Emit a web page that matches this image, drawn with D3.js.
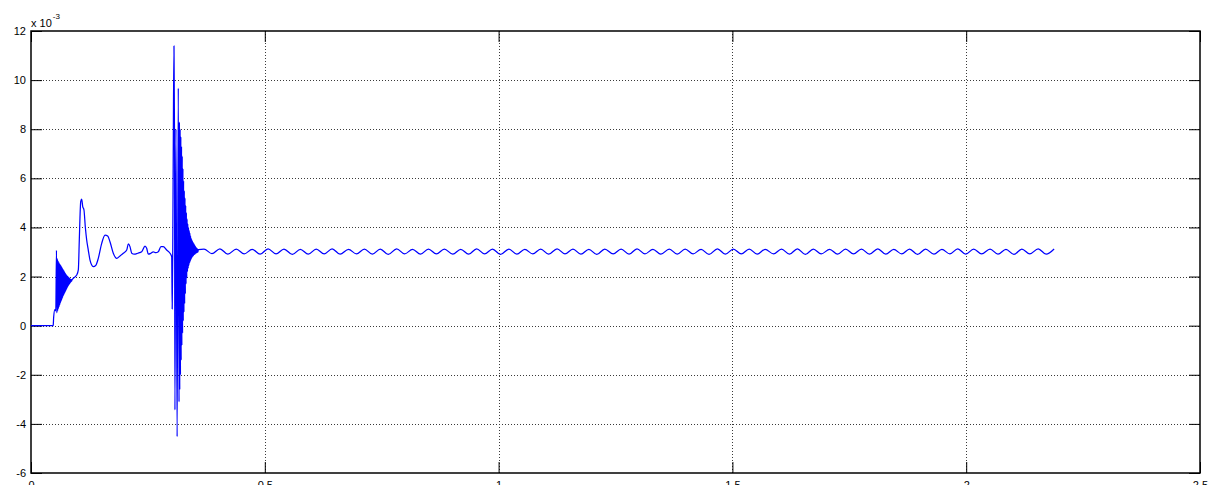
<!DOCTYPE html>
<html><head><meta charset="utf-8">
<script src="https://cdn.jsdelivr.net/npm/d3@7"></script>
<style>html,body{margin:0;padding:0;background:#fff;overflow:hidden}</style>
</head><body>
<svg id="chart" width="1219" height="485"></svg>
<script>
// ---- data (values in units of 1e-3) ----
const xTicks = [0, 0.5, 1, 1.5, 2, 2.5];
const xTickLabels = ["0", "0.5", "1", "1.5", "2", "2.5"];
const yTicks = [-6, -4, -2, 0, 2, 4, 6, 8, 10, 12];
const yTickLabels = ["-6", "-4", "-2", "0", "2", "4", "6", "8", "10", "12"];
const exponentBase = "x 10";
const exponentPower = "-3";

// initial flat part and step
const startTime  = [0, 0.0465, 0.0475, 0.0485, 0.0510, 0.0530];
const startValue = [0, 0, 0.02, 0.35, 0.65, 0.60];

// first dense oscillation burst
const burstATime  = [0.0545,0.0553,0.0560,0.0568,0.0575,0.0583,0.0590,0.0598,0.0605,0.0613,0.0620,0.0628,0.0635,0.0643,0.0650,0.0658,0.0665,0.0673,0.0680,0.0688,0.0695,0.0703,0.0710,0.0718,0.0725,0.0733,0.0740,0.0748,0.0755,0.0763,0.0770,0.0778,0.0785,0.0793,0.0800,0.0808,0.0815,0.0823,0.0830,0.0838,0.0845,0.0853,0.0860,0.0868,0.0875];
const burstAValue = [3.07,0.52,2.74,0.60,2.66,0.68,2.60,0.76,2.55,0.84,2.50,0.92,2.46,0.99,2.41,1.06,2.36,1.13,2.31,1.20,2.27,1.26,2.22,1.32,2.17,1.38,2.12,1.44,2.08,1.50,2.04,1.56,2.01,1.61,1.98,1.66,1.95,1.70,1.92,1.74,1.90,1.78,1.88,1.81,1.86];

// low-frequency transient
const settleTime  = [0.0905,0.0977,0.1012,0.1033,0.1048,0.1063,0.1084,0.1106,0.1133,0.1161,0.1191,0.1225,0.1262,0.1298,0.1332,0.1390,0.1439,0.1512,0.1583,0.1640,0.1689,0.1760,0.1833,0.1903,0.1974,0.2047,0.2081,0.2117,0.2154,0.2209,0.2282,0.2367,0.2438,0.2474,0.2509,0.2566,0.2615,0.2667,0.2722,0.2780,0.2829,0.2902,0.2973,0.3009];
const settleValue = [1.93,2.06,2.27,3.49,4.44,5.05,5.15,4.85,4.71,4.03,3.49,3.08,2.67,2.47,2.40,2.47,2.74,3.35,3.69,3.65,3.42,2.95,2.74,2.84,2.95,3.08,3.33,3.22,2.95,2.91,2.95,3.01,3.24,3.15,2.91,2.95,3.01,2.97,3.01,3.22,3.22,3.08,2.95,2.81];

// fault spikes
const spikeTime  = [0.3020,0.3032,0.3044,0.3058,0.3069,0.3078,0.3100,0.3125,0.3150];
const spikeValue = [0.68,3.20,7.84,11.39,7.70,-3.43,8.00,-4.52,9.67];

// second dense oscillation burst
const burstBTime  = [0.3166,0.3174,0.3181,0.3189,0.3196,0.3204,0.3211,0.3219,0.3226,0.3234,0.3241,0.3249,0.3256,0.3263,0.3271,0.3278,0.3286,0.3293,0.3301,0.3308,0.3316,0.3323,0.3331,0.3338,0.3346,0.3353,0.3361,0.3368,0.3376,0.3383,0.3391,0.3398,0.3406,0.3413,0.3421,0.3428,0.3436,0.3443,0.3451,0.3458,0.3466,0.3473,0.3481,0.3488,0.3496,0.3503,0.3511,0.3518,0.3526,0.3533,0.3541,0.3548,0.3556,0.3563,0.3571,0.3578];
const burstBValue = [-3.10,8.30,-2.60,8.00,-2.00,7.70,-1.40,7.30,-0.80,6.90,-0.30,6.40,0.20,5.90,0.55,5.50,0.90,5.20,1.30,4.90,1.70,4.60,1.95,4.35,2.20,4.15,2.33,4.00,2.45,3.88,2.55,3.78,2.62,3.66,2.69,3.55,2.75,3.48,2.80,3.42,2.83,3.37,2.87,3.32,2.90,3.27,2.92,3.22,2.95,3.18,2.96,3.15,2.98,3.12,3.00,3.10];

// steady-state ripple: crests and troughs
const peakTime = [0.370,0.404,0.439,0.473,0.507,0.541,0.576,0.610,0.644,0.679,0.713,0.747,0.782,0.816,0.850,0.884,0.919,0.953,0.987,1.022,1.056,1.090,1.125,1.159,1.193,1.227,1.262,1.296,1.330,1.365,1.399,1.433,1.468,1.502,1.536,1.570,1.605,1.639,1.673,1.708,1.742,1.776,1.811,1.845,1.879,1.913,1.948,1.982,2.016,2.051,2.085,2.119,2.154,2.188];
const peakValue = [3.12,3.13,3.12,3.11,3.13,3.12,3.11,3.12,3.13,3.11,3.12,3.12,3.13,3.11,3.12,3.12,3.11,3.13,3.12,3.12,3.11,3.12,3.13,3.12,3.11,3.12,3.12,3.13,3.11,3.12,3.12,3.11,3.13,3.12,3.12,3.11,3.12,3.13,3.12,3.11,3.12,3.12,3.13,3.11,3.12,3.12,3.11,3.13,3.12,3.12,3.11,3.12,3.13,3.12];
const troughTime = [0.387,0.421,0.456,0.490,0.524,0.559,0.593,0.627,0.661,0.696,0.730,0.764,0.799,0.833,0.867,0.902,0.936,0.970,1.004,1.039,1.073,1.107,1.142,1.176,1.210,1.245,1.279,1.313,1.347,1.382,1.416,1.450,1.485,1.519,1.553,1.588,1.622,1.656,1.690,1.725,1.759,1.793,1.828,1.862,1.896,1.931,1.965,1.999,2.033,2.068,2.102,2.136,2.171];
const troughValue = [2.93,2.91,2.92,2.91,2.92,2.90,2.91,2.92,2.91,2.92,2.91,2.90,2.92,2.91,2.92,2.91,2.91,2.92,2.90,2.91,2.92,2.91,2.92,2.91,2.90,2.92,2.91,2.92,2.91,2.91,2.92,2.90,2.91,2.92,2.91,2.92,2.91,2.90,2.92,2.91,2.92,2.91,2.91,2.92,2.90,2.91,2.92,2.91,2.92,2.91,2.90,2.92,2.91];

// ---- build table ----
function pairs(ts, vs){ return ts.map((t,i)=>({t:t, v:vs[i]})); }
const series = [].concat(
  pairs(startTime,startValue), pairs(burstATime,burstAValue), pairs(settleTime,settleValue),
  pairs(spikeTime,spikeValue), pairs(burstBTime,burstBValue),
  pairs(peakTime,peakValue), pairs(troughTime,troughValue)
).sort((a,b)=>a.t-b.t);

// ---- layout ----
const L = 31, R = 1200, T = 31, B = 473;
const svg = d3.select("#chart");
const x = d3.scaleLinear().domain([0, 2.5]).range([L, R]);
const y = d3.scaleLinear().domain([-6, 12]).range([B, T]);
const font = "'Liberation Sans', Arial, Helvetica, sans-serif";

svg.append("rect").attr("width",1219).attr("height",485).attr("fill","#fff");

// grid
const grid = svg.append("g").attr("stroke","#3a3a3a").attr("stroke-width",1)
  .attr("stroke-dasharray","1,2").attr("shape-rendering","crispEdges");
xTicks.filter(d=>d>0 && d<2.5).forEach(d=>{
  grid.append("line").attr("x1",Math.round(x(d))+0.5).attr("x2",Math.round(x(d))+0.5)
    .attr("y1",T).attr("y2",B);
});
yTicks.filter(d=>d>-6 && d<12).forEach(d=>{
  grid.append("line").attr("y1",Math.round(y(d))+0.5).attr("y2",Math.round(y(d))+0.5)
    .attr("x1",L).attr("x2",R);
});

// axes (ticks inward, mirrored)
const tickLen = 11;
const axB = d3.axisBottom(x).tickValues(xTicks).tickFormat((d,i)=>xTickLabels[i]).tickSizeInner(-tickLen).tickSizeOuter(0).tickPadding(6);
const axT = d3.axisTop(x).tickValues(xTicks).tickFormat("").tickSizeInner(-tickLen).tickSizeOuter(0);
const axLf = d3.axisLeft(y).tickValues(yTicks).tickFormat((d,i)=>yTickLabels[i]).tickSizeInner(-tickLen).tickSizeOuter(0).tickPadding(4);
const axRt = d3.axisRight(y).tickValues(yTicks).tickFormat("").tickSizeInner(-tickLen).tickSizeOuter(0);

function style(g){
  g.select(".domain").remove();
  g.selectAll("line").attr("stroke","#000").attr("stroke-width",1);
  g.selectAll("text").attr("fill","#000").style("font-family",font).style("font-size","11px");
}
const gB = svg.append("g").attr("transform",`translate(0,${B})`).call(axB).call(style);
gB.selectAll("text").attr("dy",null).attr("y",16);
svg.append("g").attr("transform",`translate(0,${T})`).call(axT).call(style);
const gL = svg.append("g").attr("transform",`translate(${L},0)`).call(axLf).call(style);
gL.selectAll("text").attr("x",-5);
svg.append("g").attr("transform",`translate(${R},0)`).call(axRt).call(style);

// frame
svg.append("rect").attr("x",L).attr("y",T).attr("width",R-L).attr("height",B-T)
  .attr("fill","none").attr("stroke","#000").attr("stroke-width",1.5);

// exponent label
const ex = svg.append("text").attr("x",L).attr("y",27).attr("fill","#000")
  .style("font-family",font).style("font-size","11px");
ex.append("tspan").text(exponentBase);
ex.append("tspan").attr("dx",1).attr("dy",-8).style("font-size","8px").text(exponentPower);

// signal
const line = d3.line().x(d=>x(d.t)).y(d=>y(d.v)).curve(d3.curveMonotoneX);
svg.append("path").datum(series).attr("d",line)
  .attr("fill","none").attr("stroke","#0000ff").attr("stroke-width",1.25)
  .attr("stroke-linejoin","round");
</script>
</body></html>
